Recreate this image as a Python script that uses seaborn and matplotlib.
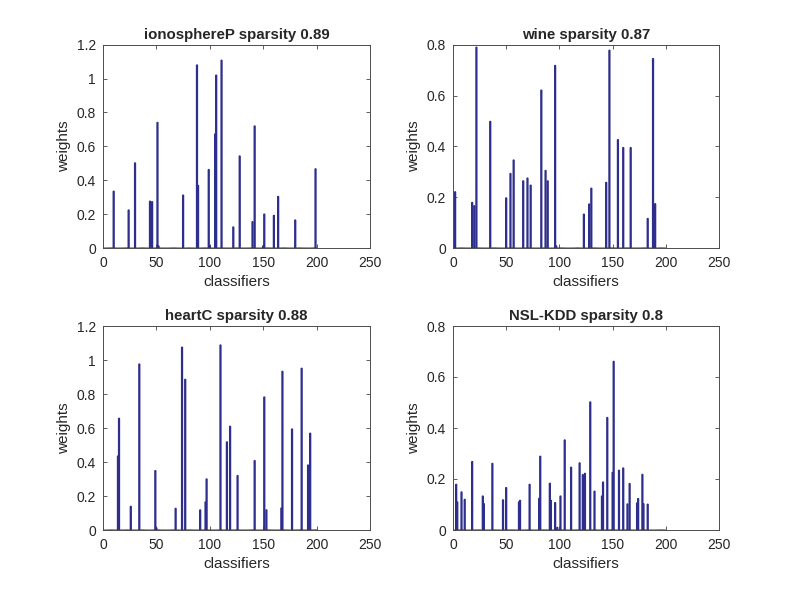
import numpy as np
import pandas as pd
import matplotlib
matplotlib.use('Agg')
import matplotlib.pyplot as plt
from matplotlib.ticker import FormatStrFormatter
import seaborn as sns

# 분류기 개수
n_classifiers = 200

# 각 데이터셋별 0이 아닌 가중치 (분류기 번호, 가중치)
iono_idx = [10, 24, 30, 44, 46, 51, 52, 75, 88, 89, 99, 100, 105, 106, 111, 122, 128,
            140, 142, 150, 151, 160, 164, 180, 199]
iono_w = [0.335, 0.224, 0.502, 0.276, 0.273, 0.741, 0.012, 0.312, 1.080, 0.369, 0.463, 0.012,
          0.673, 1.020, 1.108, 0.124, 0.543, 0.155, 0.720, 0.012, 0.200, 0.192, 0.304,
          0.165, 0.467]

wine_idx = [2, 18, 20, 22, 35, 50, 54, 57, 66, 70, 73, 83, 87, 89, 96, 97, 123, 128, 130,
            144, 147, 155, 160, 167, 183, 188, 190]
wine_w = [0.221, 0.179, 0.166, 0.790, 0.498, 0.197, 0.293, 0.346, 0.264, 0.275, 0.247,
          0.621, 0.305, 0.264, 0.718, 0.008, 0.133, 0.173, 0.235, 0.258, 0.778, 0.426,
          0.395, 0.395, 0.116, 0.745, 0.174]

heart_idx = [14, 15, 26, 34, 49, 50, 68, 74, 77, 91, 96, 97, 110, 116, 119, 126, 142, 151,
             153, 167, 168, 177, 186, 192, 194]
heart_w = [0.435, 0.657, 0.139, 0.976, 0.349, 0.012, 0.127, 1.075, 0.886, 0.118, 0.165,
           0.300, 1.088, 0.518, 0.610, 0.320, 0.408, 0.782, 0.118, 0.129, 0.933, 0.594,
           0.951, 0.382, 0.569]

nsl_idx = [3, 4, 8, 11, 18, 28, 29, 37, 47, 50, 62, 63, 72, 81, 82, 91, 92, 96, 98, 101,
           105, 111, 119, 122, 124, 129, 133, 140, 141, 145, 150, 151, 156, 160, 164, 166,
           173, 174, 178, 179, 183]
nsl_w = [0.179, 0.110, 0.149, 0.120, 0.268, 0.133, 0.103, 0.261, 0.118, 0.166, 0.110,
         0.116, 0.179, 0.124, 0.289, 0.183, 0.116, 0.107, 0.010, 0.133, 0.353, 0.246,
         0.263, 0.217, 0.222, 0.502, 0.152, 0.133, 0.188, 0.441, 0.226, 0.661, 0.234,
         0.243, 0.102, 0.182, 0.106, 0.123, 0.218, 0.103, 0.101]

titles = ['ionosphereP sparsity 0.89', 'wine sparsity 0.87',
          'heartC sparsity 0.88', 'NSL-KDD sparsity 0.8']
ymaxs = [1.2, 0.8, 1.2, 0.8]
panels = [(iono_idx, iono_w), (wine_idx, wine_w), (heart_idx, heart_w), (nsl_idx, nsl_w)]

sns.set_style('white')
plt.rcParams['font.family'] = ['Liberation Sans', 'DejaVu Sans']

W, H = 794, 596
fig = plt.figure(figsize=(W / 100, H / 100), dpi=100)

# 축 위치 (픽셀 기준)
boxes = [(103, 44.7, 370, 248), (453, 44.7, 719, 248),
         (103, 326, 370, 530), (453, 326, 719, 530)]

for k, ((idx, w), (x0, y0, x1, y1)) in enumerate(zip(panels, boxes)):
    ax = fig.add_axes([x0 / W, 1 - y1 / H, (x1 - x0) / W, (y1 - y0) / H])
    full = np.zeros(n_classifiers)
    full[np.array(idx) - 1] = w
    df = pd.DataFrame({'classifier': np.arange(1, n_classifiers + 1), 'weight': full})
    sns.barplot(data=df, x='classifier', y='weight', native_scale=True, ax=ax,
                color='#4a4ab8', saturation=1, edgecolor='#2e2e8c', linewidth=1.0,
                errorbar=None, width=0.8)
    for p in ax.patches:
        p.set_snap(False)
    ax.set_xlim(0, 250)
    ax.set_ylim(0, ymaxs[k])
    ax.set_xticks([0, 50, 100, 150, 200, 250])
    ax.set_yticks(np.round(np.arange(0, ymaxs[k] + 1e-9, 0.2), 1))
    ax.yaxis.set_major_formatter(FormatStrFormatter('%g'))
    ax.set_title(titles[k], fontsize=10.8, fontweight='bold', pad=4)
    ax.set_xlabel('classifiers', fontsize=11, labelpad=3)
    ax.set_ylabel('weights', fontsize=11, labelpad=4)
    ax.tick_params(direction='in', length=3, width=0.6, labelsize=10, color='#444444',
                   labelcolor='#262626', top=True, right=True, bottom=True, left=True)
    ax.tick_params(axis='x', pad=6)
    ax.tick_params(axis='y', pad=5)
    for s in ax.spines.values():
        s.set_visible(True)
        s.set_color('#4d4d4d')
        s.set_linewidth(0.7)

fig.savefig('out.png', dpi=100)
